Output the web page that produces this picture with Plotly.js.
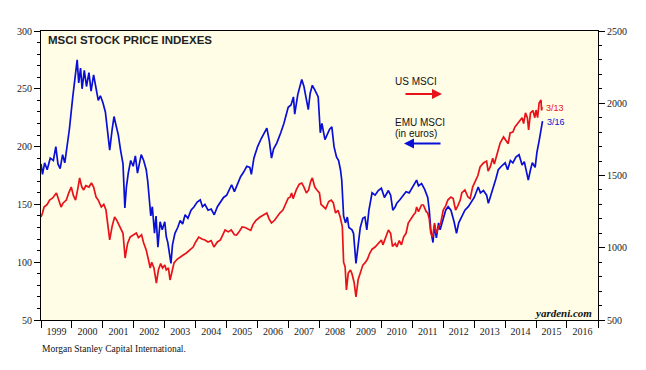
<!DOCTYPE html>
<html>
<head>
<meta charset="utf-8">
<script src="https://cdn.plot.ly/plotly-3.0.1.min.js"></script>
<style>
html,body{margin:0;padding:0;background:#fff;}
#chart{width:646px;height:370px;}
</style>
</head>
<body>
<div id="chart"></div>
<script>
// EMU MSCI (in euros), left axis — decimal year / index value
const emuYears = [1999.00,1999.05,1999.12,1999.20,1999.30,1999.40,1999.48,1999.55,1999.62,1999.70,1999.77,1999.85,1999.92,2000.03,2000.10,2000.17,2000.22,2000.28,2000.33,2000.40,2000.47,2000.55,2000.62,2000.70,2000.77,2000.85,2000.92,2001.00,2001.08,2001.15,2001.22,2001.30,2001.36,2001.43,2001.50,2001.57,2001.65,2001.71,2001.76,2001.82,2001.90,2001.98,2002.05,2002.12,2002.20,2002.24,2002.32,2002.40,2002.45,2002.51,2002.55,2002.60,2002.67,2002.72,2002.78,2002.85,2002.92,2003.00,2003.05,2003.10,2003.20,2003.25,2003.33,2003.42,2003.50,2003.58,2003.66,2003.75,2003.85,2003.95,2004.05,2004.15,2004.22,2004.30,2004.40,2004.50,2004.60,2004.70,2004.80,2004.90,2005.00,2005.10,2005.16,2005.25,2005.32,2005.45,2005.55,2005.65,2005.75,2005.80,2005.88,2006.00,2006.12,2006.30,2006.38,2006.45,2006.52,2006.62,2006.75,2006.85,2006.99,2007.08,2007.16,2007.20,2007.30,2007.43,2007.50,2007.58,2007.64,2007.70,2007.77,2007.85,2007.96,2008.03,2008.08,2008.18,2008.25,2008.33,2008.40,2008.47,2008.55,2008.62,2008.68,2008.72,2008.78,2008.84,2008.90,2008.95,2009.05,2009.10,2009.18,2009.25,2009.32,2009.40,2009.47,2009.53,2009.60,2009.70,2009.80,2009.90,2010.00,2010.10,2010.23,2010.30,2010.37,2010.45,2010.50,2010.60,2010.70,2010.80,2010.90,2011.00,2011.09,2011.14,2011.20,2011.30,2011.40,2011.50,2011.55,2011.60,2011.67,2011.72,2011.78,2011.85,2011.90,2012.00,2012.08,2012.16,2012.25,2012.35,2012.43,2012.50,2012.60,2012.70,2012.81,2012.90,2013.00,2013.13,2013.20,2013.30,2013.40,2013.46,2013.55,2013.62,2013.70,2013.78,2013.88,2014.00,2014.08,2014.17,2014.25,2014.35,2014.45,2014.48,2014.55,2014.62,2014.70,2014.75,2014.82,2014.88,2014.97,2015.03,2015.10,2015.16,2015.21];
const emuValues = [185,176,186,180,190,188,200,185,181,193,186,200,215,243,258,275,255,268,250,266,252,264,248,262,252,240,244,238,230,215,197,215,226,218,210,197,185,147,165,177,188,183,192,177,189,193,188,180,170,150,140,148,125,140,113,135,128,135,122,117,99,115,125,130,136,133,141,138,145,148,152,154,148,150,145,146,141,148,152,156,158,163,167,161,166,174,178,183,182,176,190,200,207,216,205,190,198,203,212,220,234,236,243,228,245,258,252,242,232,246,253,249,243,212,220,206,210,215,217,200,191,188,180,171,140,134,139,130,128,125,99,118,130,138,139,128,145,160,158,162,164,156,162,158,145,148,151,154,158,161,160,165,168,171,166,168,163,156,145,128,117,132,121,134,128,139,145,148,145,135,125,134,140,145,148,152,156,165,160,162,158,151,160,165,172,180,183,186,180,188,186,191,193,190,184,187,178,171,180,186,182,195,205,214,222];

// US MSCI, right axis
const usYears = [1999.00,1999.05,1999.10,1999.20,1999.28,1999.38,1999.50,1999.58,1999.65,1999.72,1999.82,1999.90,1999.98,2000.05,2000.12,2000.20,2000.25,2000.32,2000.38,2000.45,2000.55,2000.63,2000.70,2000.78,2000.85,2000.95,2001.03,2001.10,2001.17,2001.22,2001.30,2001.38,2001.45,2001.55,2001.65,2001.72,2001.80,2001.88,2001.98,2002.08,2002.15,2002.25,2002.32,2002.40,2002.47,2002.53,2002.58,2002.65,2002.73,2002.80,2002.87,2002.93,2003.00,2003.05,2003.12,2003.17,2003.22,2003.30,2003.40,2003.49,2003.60,2003.70,2003.80,2003.92,2004.00,2004.10,2004.20,2004.30,2004.40,2004.50,2004.59,2004.70,2004.80,2004.90,2004.95,2005.05,2005.15,2005.25,2005.32,2005.40,2005.50,2005.60,2005.70,2005.78,2005.85,2005.95,2006.08,2006.20,2006.30,2006.37,2006.45,2006.55,2006.62,2006.72,2006.82,2006.90,2006.99,2007.05,2007.10,2007.15,2007.25,2007.35,2007.43,2007.50,2007.58,2007.65,2007.72,2007.77,2007.85,2007.92,2008.00,2008.05,2008.13,2008.20,2008.30,2008.38,2008.45,2008.52,2008.60,2008.67,2008.74,2008.78,2008.83,2008.87,2008.93,2009.00,2009.05,2009.12,2009.18,2009.25,2009.32,2009.40,2009.47,2009.55,2009.62,2009.70,2009.80,2009.90,2010.00,2010.05,2010.15,2010.23,2010.30,2010.36,2010.45,2010.50,2010.58,2010.65,2010.72,2010.80,2010.87,2010.95,2011.05,2011.10,2011.14,2011.20,2011.30,2011.36,2011.45,2011.50,2011.55,2011.60,2011.66,2011.72,2011.78,2011.85,2011.92,2012.00,2012.08,2012.15,2012.25,2012.32,2012.40,2012.47,2012.55,2012.60,2012.70,2012.80,2012.87,2012.95,2013.05,2013.12,2013.19,2013.30,2013.40,2013.45,2013.52,2013.60,2013.65,2013.75,2013.84,2013.95,2014.05,2014.10,2014.16,2014.25,2014.32,2014.40,2014.48,2014.55,2014.60,2014.66,2014.72,2014.76,2014.82,2014.90,2014.96,2015.00,2015.05,2015.10,2015.16,2015.18,2015.197];
const usValues = [1213,1240,1282,1300,1330,1345,1379,1330,1282,1310,1330,1380,1420,1360,1330,1420,1483,1420,1400,1430,1420,1448,1420,1351,1330,1282,1300,1261,1150,1054,1150,1213,1190,1144,1100,929,1030,1074,1090,1102,1070,1090,1033,985,920,860,900,860,756,850,890,860,880,846,860,777,820,895,920,936,950,964,985,1005,1040,1074,1060,1054,1040,1050,1005,1040,1054,1100,1123,1110,1123,1090,1088,1110,1144,1140,1130,1120,1160,1190,1213,1230,1241,1200,1171,1190,1213,1240,1261,1300,1344,1350,1379,1340,1400,1440,1448,1420,1379,1400,1460,1483,1420,1400,1380,1300,1282,1270,1320,1330,1310,1240,1260,1213,1144,900,867,708,825,846,820,760,660,780,825,880,895,920,960,990,1005,1030,1054,1020,1080,1123,1100,1010,1030,1005,1050,1020,1074,1100,1171,1200,1230,1241,1282,1250,1296,1296,1250,1241,1200,1102,1074,1171,1100,1144,1170,1261,1290,1330,1351,1340,1261,1290,1330,1379,1400,1351,1340,1420,1469,1500,1559,1587,1600,1530,1559,1620,1580,1656,1725,1767,1740,1720,1794,1800,1836,1860,1884,1900,1860,1933,1900,1815,1933,1950,1900,1953,1900,2002,2022,1950,1974];

const yearStart = '1999-01-01';
const yearEnd = '2017-01-01';

function toDate(d) {
  const y = Math.floor(d);
  const a = Date.UTC(y, 0, 1), b = Date.UTC(y + 1, 0, 1);
  return new Date(a + (d - y) * (b - a)).toISOString().slice(0, 10);
}

const L = 41, R = 598, T = 31, B = 320;
const px = x => (x - L) / (R - L);
const py = y => (B - y) / (B - T);

const serif = '"Liberation Serif", "Times New Roman", Times, serif';
const sans = '"Liberation Sans", Arial, Helvetica, sans-serif';
const tickFont = {family: serif, size: 10, color: '#222'};

const traces = [
  {x: emuYears.map(toDate), y: emuValues, type: 'scatter', mode: 'lines',
   line: {color: '#0a0fd6', width: 1.7}, yaxis: 'y', hoverinfo: 'skip'},
  {x: usYears.map(toDate), y: usValues, type: 'scatter', mode: 'lines',
   line: {color: '#e8121a', width: 1.7}, yaxis: 'y2', hoverinfo: 'skip'}
];

const layout = {
  width: 646, height: 370,
  font: {family: serif},
  margin: {l: L, r: 646 - R, t: T, b: 370 - B, pad: 0},
  paper_bgcolor: '#ffffff',
  plot_bgcolor: '#fffde6',
  showlegend: false,
  xaxis: {
    type: 'date', range: [yearStart, yearEnd],
    tick0: yearStart, dtick: 'M12', tickformat: '%Y', ticklabelmode: 'period',
    ticks: 'outside', ticklen: 7, tickwidth: 1, tickcolor: '#000',
    ticklabelstandoff: -5,
    showline: true, linecolor: '#000', linewidth: 1, mirror: true,
    showgrid: false, zeroline: false, tickfont: tickFont
  },
  yaxis: {
    range: [50, 300], dtick: 50, tick0: 50,
    ticks: 'outside', ticklen: 6, tickwidth: 1, tickcolor: '#000',
    minor: {dtick: 10, ticks: 'outside', ticklen: 3, tickcolor: '#000', showgrid: false},
    showline: true, linecolor: '#000', linewidth: 1,
    showgrid: false, zeroline: false, tickfont: tickFont
  },
  yaxis2: {
    overlaying: 'y', side: 'right',
    range: [500, 2500], dtick: 500, tick0: 500,
    ticks: 'outside', ticklen: 6, tickwidth: 1, tickcolor: '#000',
    minor: {dtick: 100, ticks: 'outside', ticklen: 3, tickcolor: '#000', showgrid: false},
    showline: true, linecolor: '#000', linewidth: 1,
    showgrid: false, zeroline: false, tickfont: tickFont
  },
  annotations: [
    {text: '<b>MSCI STOCK PRICE INDEXES</b>', xref: 'paper', yref: 'paper', x: px(46), y: py(40),
     xanchor: 'left', yanchor: 'middle', showarrow: false, font: {family: sans, size: 11.5, color: '#222'}},
    {text: 'US MSCI', xref: 'paper', yref: 'paper', x: px(393), y: py(81),
     xanchor: 'left', yanchor: 'middle', showarrow: false, font: {family: sans, size: 10, color: '#111'}},
    {text: '', xref: 'paper', yref: 'paper', x: px(442), y: py(94), ax: -38, ay: 0,
     showarrow: true, arrowhead: 2, arrowsize: 1, arrowwidth: 2, arrowcolor: '#e8121a'},
    {text: 'EMU MSCI', xref: 'paper', yref: 'paper', x: px(393), y: py(122.5),
     xanchor: 'left', yanchor: 'middle', showarrow: false, font: {family: sans, size: 10, color: '#111'}},
    {text: '(in euros)', xref: 'paper', yref: 'paper', x: px(393), y: py(133),
     xanchor: 'left', yanchor: 'middle', showarrow: false, font: {family: sans, size: 10, color: '#111'}},
    {text: '', xref: 'paper', yref: 'paper', x: px(404), y: py(143.5), ax: 38, ay: 0,
     showarrow: true, arrowhead: 2, arrowsize: 1, arrowwidth: 2, arrowcolor: '#0a0fd6'},
    {text: '3/13', xref: 'paper', yref: 'paper', x: px(544), y: py(108),
     xanchor: 'left', yanchor: 'middle', showarrow: false, font: {family: sans, size: 9, color: '#e8121a'}},
    {text: '3/16', xref: 'paper', yref: 'paper', x: px(545), y: py(122.5),
     xanchor: 'left', yanchor: 'middle', showarrow: false, font: {family: sans, size: 9, color: '#0a0fd6'}},
    {text: '<b><i>yardeni.com</i></b>', xref: 'paper', yref: 'paper', x: px(594), y: py(313),
     xanchor: 'right', yanchor: 'middle', showarrow: false,
     font: {family: serif, size: 11, color: '#111'}},
    {text: 'Morgan Stanley Capital International.', xref: 'paper', yref: 'paper', x: px(40), y: py(349),
     xanchor: 'left', yanchor: 'middle', showarrow: false,
     font: {family: serif, size: 9.5, color: '#111'}}
  ]
};

Plotly.newPlot('chart', traces, layout, {staticPlot: true, displayModeBar: false});
</script>
</body>
</html>
